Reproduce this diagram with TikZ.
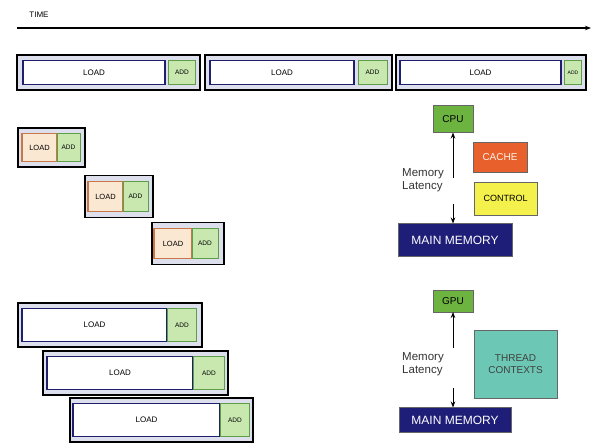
\documentclass[tikz,border=0pt]{standalone}
\usepackage{fontspec}
\setmainfont{Liberation Sans}
\usetikzlibrary{arrows.meta}
\definecolor{navy}{HTML}{1F1F6E}
\definecolor{framefill}{HTML}{DDE0EC}
\definecolor{addfill}{HTML}{C8E8B0}
\definecolor{addline}{HTML}{5E9E48}
\definecolor{loadfill}{HTML}{FBE8D2}
\definecolor{loadline}{HTML}{C87848}
\definecolor{cpugreen}{HTML}{6CB33F}
\definecolor{cacheor}{HTML}{E8602C}
\definecolor{ctrlyel}{HTML}{F4F04C}
\definecolor{memnavy}{HTML}{1E1E78}
\definecolor{tealbox}{HTML}{6CC8B4}
\begin{document}
\begin{tikzpicture}[x=1pt,y=-1pt,
  every node/.style={inner sep=0pt, outer sep=0pt},
  frame/.style={draw=black, line width=1.6pt, fill=framefill},
  loadbox/.style={draw=navy, line width=1.4pt, fill=white, font=\fontsize{8}{9}\selectfont},
  addbox/.style={draw=addline, line width=0.9pt, fill=addfill, font=\fontsize{6.5}{7}\selectfont},
  ploadbox/.style={draw=loadline, line width=1.2pt, fill=loadfill, font=\fontsize{7.5}{8}\selectfont},
  hwbox/.style={draw=black!60, line width=0.6pt, align=center, font=\fontsize{10}{12}\selectfont},
  membox/.style={hwbox, fill=memnavy, text=white, font=\fontsize{12}{13}\selectfont},
  lbl/.style={font=\fontsize{11.5}{13}\selectfont, align=left, text=black!80},
  arr/.style={-{Stealth[length=6pt,width=4.5pt]}, line width=0.8pt}
]
\useasboundingbox (0,0) rectangle (594,446);

% time axis
\node[font=\fontsize{8}{9}\selectfont] (time) at (39,15) {TIME};
\coordinate (t0) at (17,28);
\coordinate (t1) at (591,28);
\draw[arr, line width=1.2pt] (t0) -- (t1);

% top row: serial execution
\node[frame, minimum width=183pt, minimum height=35pt] (f1) at (108.5,72.5) {};
\node[loadbox, minimum width=142pt, minimum height=24pt] (l1) at (94,72.5) {LOAD};
\node[addbox, minimum width=27pt, minimum height=24pt] (a1) at (182,72.5) {ADD};

\node[frame, minimum width=187pt, minimum height=35pt] (f2) at (298.5,72.5) {};
\node[loadbox, minimum width=144pt, minimum height=24pt] (l2) at (282,72.5) {LOAD};
\node[addbox, minimum width=29pt, minimum height=24pt] (a2) at (372.5,72.5) {ADD};

\node[frame, minimum width=190pt, minimum height=35pt] (f3) at (491,72.5) {};
\node[loadbox, minimum width=161pt, minimum height=24pt] (l3) at (480.5,72.5) {LOAD};
\node[addbox, minimum width=17pt, minimum height=24pt, font=\fontsize{5}{6}\selectfont] (a3) at (573,72.5) {ADD};

% middle: CPU with cache (short latency)
\node[frame, minimum width=67pt, minimum height=39pt] (fa) at (51.5,147.5) {};
\node[ploadbox, minimum width=35pt, minimum height=28pt] (la) at (39.5,147.5) {LOAD};
\node[addbox, minimum width=23pt, minimum height=28pt] (aa) at (68.5,147.5) {ADD};

\node[frame, minimum width=68pt, minimum height=42pt] (fb) at (119,196.5) {};
\node[ploadbox, minimum width=35pt, minimum height=30pt] (lb) at (105.5,196.5) {LOAD};
\node[addbox, minimum width=25pt, minimum height=30pt] (ab) at (135.5,196.5) {ADD};

\node[frame, minimum width=72pt, minimum height=42pt] (fc) at (188,243.5) {};
\node[ploadbox, minimum width=38pt, minimum height=30pt] (lc) at (173,243.5) {LOAD};
\node[addbox, minimum width=26pt, minimum height=30pt] (ac) at (205,243.5) {ADD};

% CPU hardware
\node[hwbox, fill=cpugreen, minimum width=40pt, minimum height=27pt] (cpu) at (453,119) {CPU};
\node[hwbox, fill=cacheor, text=white!90!orange, minimum width=54pt, minimum height=30pt] (cache) at (500,157) {CACHE};
\node[hwbox, fill=ctrlyel, minimum width=63pt, minimum height=33pt, font=\fontsize{9}{10}\selectfont] (ctrl) at (505.5,198.5) {CONTROL};
\node[membox, minimum width=114pt, minimum height=33pt] (mem1) at (455,240) {MAIN MEMORY};
\coordinate (m1a) at (453,178);
\coordinate (m1b) at (453,204);
\draw[arr] (m1a) -- (cpu.south);
\draw[arr] (m1b) -- (mem1.north -| m1b);
\node[lbl] (lat1) at (423,180) {Memory\\Latency};

% bottom: GPU with threads
\node[frame, minimum width=184pt, minimum height=44pt] (fd) at (110,325) {};
\node[loadbox, minimum width=145pt, minimum height=33pt] (ld) at (94.5,325) {LOAD};
\node[addbox, minimum width=29pt, minimum height=33pt] (ad) at (182,325) {ADD};

\node[frame, minimum width=185pt, minimum height=44pt] (fe) at (135.5,373) {};
\node[loadbox, minimum width=146pt, minimum height=33pt] (le) at (120,373) {LOAD};
\node[addbox, minimum width=31pt, minimum height=33pt] (ae) at (209,373) {ADD};

\node[frame, minimum width=183pt, minimum height=44pt] (ff) at (161.5,420) {};
\node[loadbox, minimum width=147pt, minimum height=33pt] (lf) at (146.5,420) {LOAD};
\node[addbox, minimum width=29pt, minimum height=33pt] (af) at (235,420) {ADD};

% GPU hardware
\node[hwbox, fill=cpugreen, minimum width=40pt, minimum height=22pt] (gpu) at (453,301) {GPU};
\node[hwbox, fill=tealbox, text=black!75, minimum width=83pt, minimum height=68pt] (thr) at (515.5,364) {THREAD\\CONTEXTS};
\node[membox, minimum width=112pt, minimum height=25pt] (mem2) at (455,420) {MAIN MEMORY};
\coordinate (m2a) at (453,348);
\coordinate (m2b) at (453,388);
\draw[arr] (m2a) -- (gpu.south);
\draw[arr] (m2b) -- (mem2.north -| m2b);
\node[lbl] (lat2) at (423,364) {Memory\\Latency};
\end{tikzpicture}
\end{document}
